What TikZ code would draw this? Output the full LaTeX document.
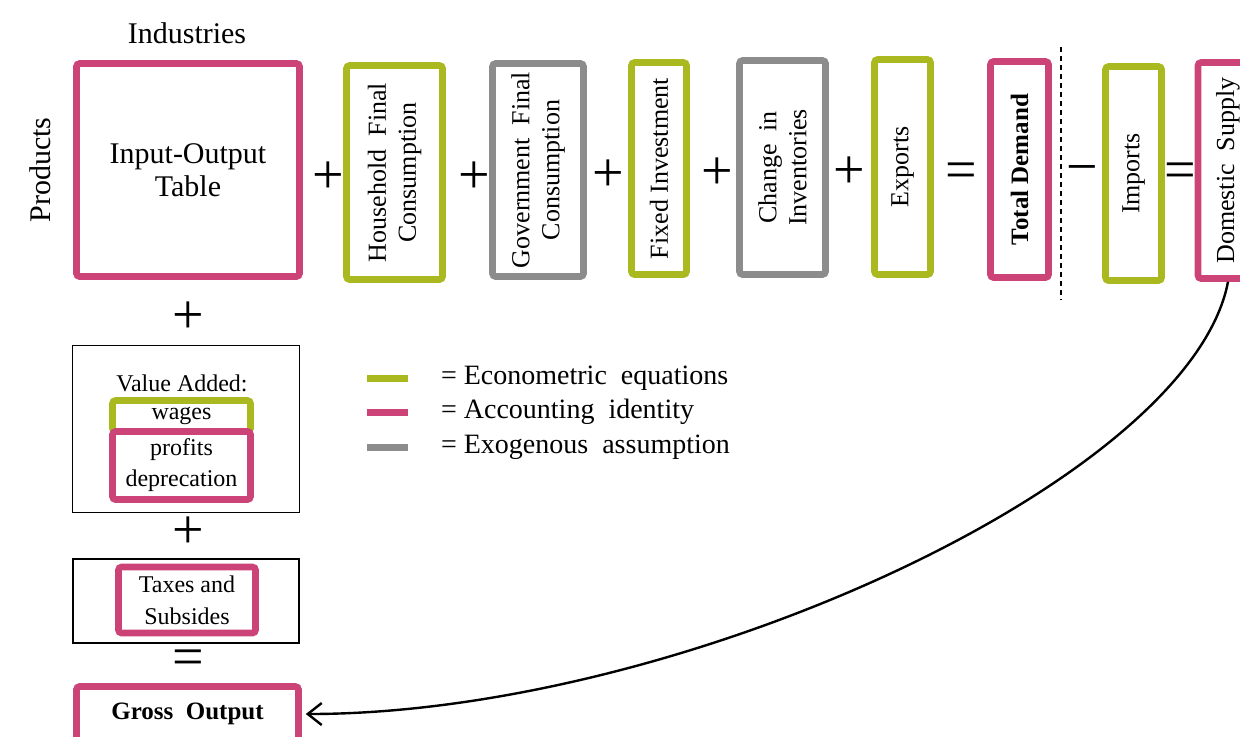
\documentclass[tikz,border=0pt]{standalone}
\usepackage{fontspec}
\setmainfont{Liberation Serif}
\usepackage{tikz}
\usetikzlibrary{arrows.meta}
\usepackage{xcolor}

\definecolor{eqgreen}{RGB}{169,185,31}
\definecolor{idpink}{RGB}{204,68,119}
\definecolor{exgray}{RGB}{140,140,140}

\begin{document}
\begin{tikzpicture}[x=0.5pt, y=-0.5pt,
    box/.style={draw, line width=3.3pt, rounded corners=1.5pt, inner sep=0pt, fill=white, align=center},
    vbox/.style={box, rotate=90, font=\fontsize{13}{15}\selectfont},
    thinbox/.style={draw, line width=0.8pt, inner sep=0pt},
    op/.style={font=\fontsize{28}{28}\selectfont, inner sep=0pt},
    small/.style={font=\fontsize{12}{15.5}\selectfont, align=center}]
    \useasboundingbox (0,0) rectangle (1240,736);

    % Top row: demand side
    \node[font=\fontsize{15}{17}\selectfont] (ind) at (187, 33) {Industries};
    \node[font=\fontsize{15}{17}\selectfont, rotate=90] (prod) at (40, 170) {Products};

    \node[box, draw=idpink, minimum width=111.5pt, minimum height=106.5pt, font=\fontsize{15}{16.5}\selectfont] (io) at (188, 170) {Input-Output\\Table};
    \node[op] (p1) at (328, 178) {+};
    \node[vbox, draw=eqgreen, minimum width=107pt, minimum height=48pt] (hh) at (394.5, 172.5) {Household~~Final\\Consumption};
    \node[op] (p2) at (474, 178) {+};
    \node[vbox, draw=exgray, minimum width=106.5pt, minimum height=45.5pt] (gov) at (538, 170) {Government~~Final\\Consumption};
    \node[op] (p3) at (608, 176) {+};
    \node[vbox, draw=eqgreen, minimum width=106pt, minimum height=27.5pt] (fix) at (659, 168.5) {Fixed Investment};
    \node[op] (p4) at (717, 174) {+};
    \node[vbox, draw=exgray, minimum width=107pt, minimum height=43pt] (inv) at (782.5, 167.5) {Change~~in\\Inventories};
    \node[op] (p5) at (849, 173) {+};
    \node[vbox, draw=eqgreen, minimum width=107.5pt, minimum height=28pt] (exp) at (902.5, 167) {Exports};
    \node[op] (eq1) at (961, 176) {=};
    \node[vbox, draw=idpink, minimum width=108pt, minimum height=29pt, font=\fontsize{12.5}{15}\selectfont\bfseries] (tot) at (1019.5, 169.5) {Total Demand};
    \draw[line width=0.6pt, dash pattern=on 2.5pt off 2pt] (1061, 47) -- (1061, 300);
    \node[op] (m1) at (1082, 175) {−};
    \node[vbox, draw=eqgreen, minimum width=107pt, minimum height=28pt] (imp) at (1133.5, 173.5) {Imports};
    \node[op] (eq2) at (1180, 176) {=};
    \node[vbox, draw=idpink, minimum width=108pt, minimum height=30pt] (dom) at (1228, 170.5) {Domestic~~Supply};

    % Left column: supply side
    \node[op] (p6) at (188, 318) {+};
    \node[thinbox, minimum width=113.5pt, minimum height=83.5pt] (va) at (186, 429) {};
    \node[small] (vatxt) at (182, 383) {Value Added:};
    \node[box, draw=eqgreen, minimum width=69pt, minimum height=15.5pt, font=\fontsize{12}{15.5}\selectfont] (wag) at (181.5, 416) {\raisebox{1pt}{wages}};
    \node[box, draw=idpink, minimum width=69pt, minimum height=34pt, font=\fontsize{12}{15.5}\selectfont] (prof) at (181.5, 465.5) {profits\\deprecation};

    \node[op] (p7) at (188, 533) {+};
    \node[thinbox, minimum width=113pt, minimum height=42pt] (tax) at (186, 601) {};
    \node[box, draw=idpink, minimum width=68.5pt, minimum height=33pt, font=\fontsize{12}{16}\selectfont] (taxin) at (187, 600) {Taxes and\\Subsides};

    \node[op] (eq3) at (188, 663) {=};
    \node[box, draw=idpink, minimum width=111pt, minimum height=27.5pt, font=\fontsize{12.5}{15}\selectfont\bfseries] (gross) at (187.5, 714) {Gross~~Output};

    % Legend
    \draw[line width=3.5pt, eqgreen] (367, 378) -- (408, 378);
    \draw[line width=3.5pt, idpink] (367, 412) -- (408, 412);
    \draw[line width=3.5pt, exgray] (367, 447) -- (408, 447);
    \node[anchor=west, font=\fontsize{14}{16}\selectfont] (leg1) at (434, 378) {= Econometric~~equations};
    \node[anchor=west, font=\fontsize{14}{16}\selectfont] (leg2) at (434, 412) {= Accounting~~identity};
    \node[anchor=west, font=\fontsize{14}{16}\selectfont] (leg3) at (434, 447) {= Exogenous~~assumption};

    % Feedback: domestic supply to gross output (west of the turned node is its bottom)
    \draw[-{Straight Barb[length=7pt, width=11pt]}, line width=1.2pt, shorten >=2pt]
        (dom.west) .. controls (1190, 480) and (680, 714) .. (gross.east);
\end{tikzpicture}
\end{document}
